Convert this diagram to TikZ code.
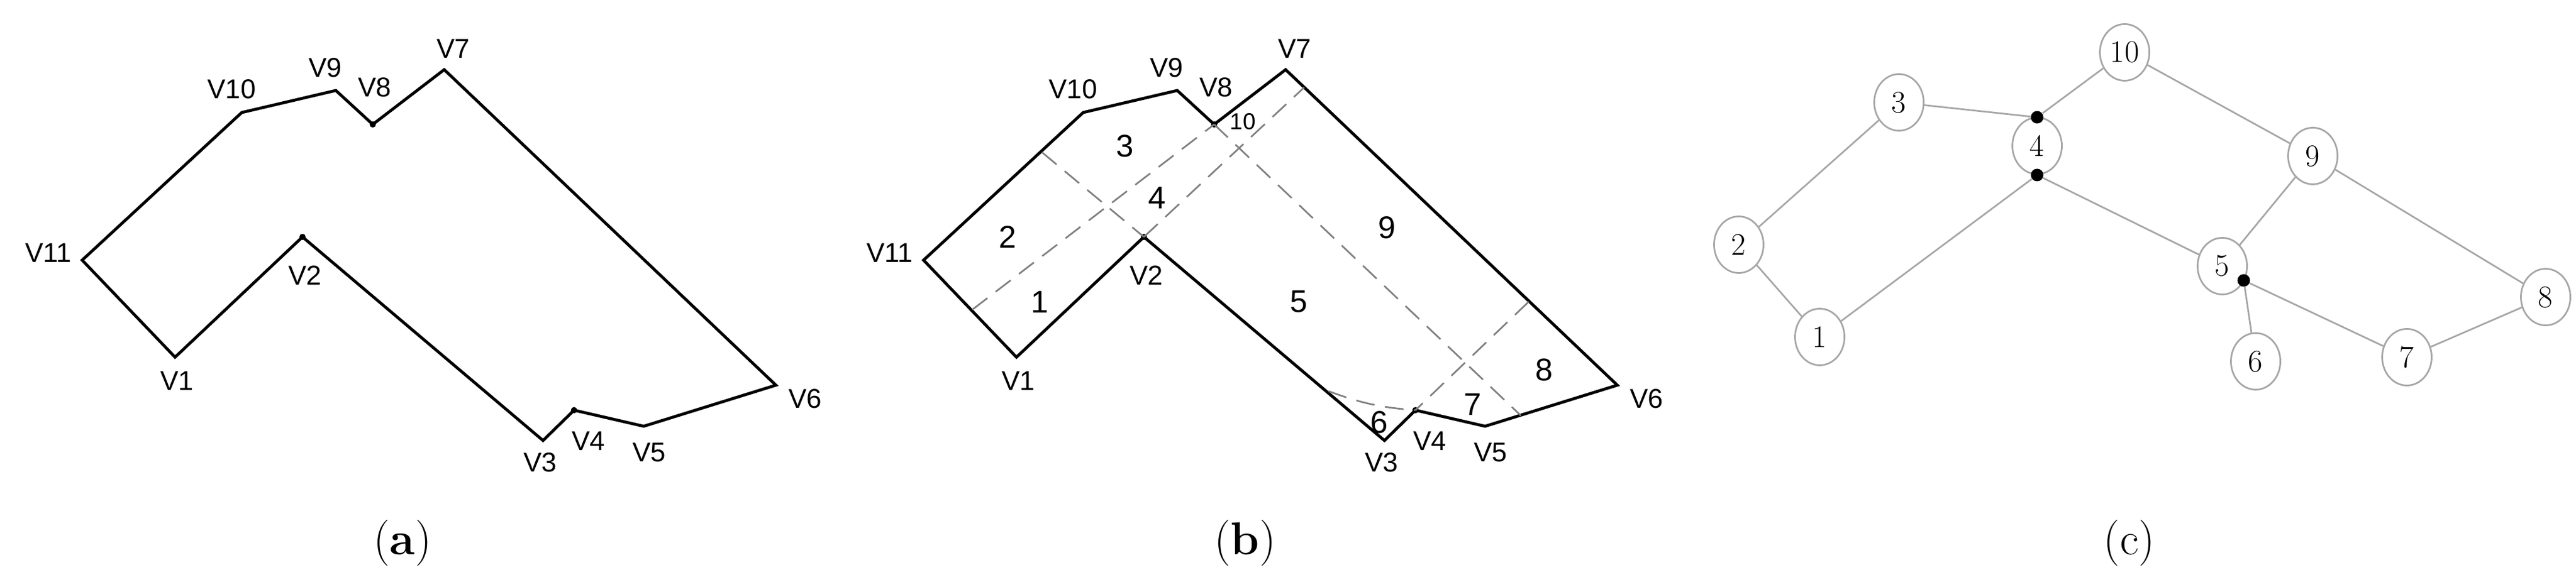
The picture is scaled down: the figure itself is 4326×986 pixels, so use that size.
\documentclass[tikz,border=0pt]{standalone}
\usepackage{fontspec}
\usetikzlibrary{shapes.geometric}
\setmainfont{Liberation Sans}
\newfontfamily\capfont{Latin Modern Roman}
\begin{document}
\begin{tikzpicture}[x=0.01cm,y=-0.01cm,
  poly/.style={line width=1.4pt,line join=miter},
  dsh/.style={gray,line width=0.8pt,dash pattern=on 9pt off 5pt},
  vl/.style={font=\fontsize{13}{13}\selectfont},
  rl/.style={font=\fontsize{15}{15}\selectfont},
  dot/.style={circle,fill=black,inner sep=0pt,minimum size=3pt},
  gn/.style={ellipse,draw=gray!70,text=black,line width=0.8pt,minimum width=0.83cm,minimum height=0.95cm,inner sep=0pt,font=\capfont\fontsize{15}{15}\selectfont},
  ge/.style={gray!70,line width=0.8pt},
  bd/.style={circle,fill=black,inner sep=0pt,minimum size=6pt},
  capt/.style={font=\capfont\fontsize{22}{22}\selectfont}]
\useasboundingbox (0,0) rectangle (4326,986);
% ---------- panel (b) geometry, panel (a) shifted
\foreach \dx/\p in {-1413/a,0/b}{
\begin{scope}[xshift=\dx*0.01cm]
\coordinate (\p V1) at (1707,600);
\coordinate (\p V2) at (1921,398);
\coordinate (\p V3) at (2325,740);
\coordinate (\p V4) at (2377,689);
\coordinate (\p V5) at (2494,716);
\coordinate (\p V6) at (2716,647);
\coordinate (\p V7) at (2159,117);
\coordinate (\p V8) at (2039,209);
\coordinate (\p V9) at (1977,152);
\coordinate (\p V10) at (1819,189);
\coordinate (\p V11) at (1551,437);
\draw[poly] (\p V1)--(\p V2)--(\p V3)--(\p V4)--(\p V5)--(\p V6)--(\p V7)--(\p V8)--(\p V9)--(\p V10)--(\p V11)--cycle;
\node[dot] at (\p V2) {}; \node[dot] at (\p V4) {}; \node[dot] at (\p V8) {};
\node[vl] at (2174,82) {V7};
\node[vl] at (1959,114) {V9};
\node[vl] at (2042,147) {V8};
\node[vl] at (1802,150) {V10};
\node[vl] at (1494,425) {V11};
\node[vl] at (1925,463) {V2};
\node[vl] at (1710,640) {V1};
\node[vl] at (2320,777) {V3};
\node[vl] at (2401,741) {V4};
\node[vl] at (2503,760) {V5};
\node[vl] at (2765,670) {V6};
\end{scope}}
\coordinate (d1) at (1633,520);
\coordinate (d2) at (1750,256);
\coordinate (d3) at (2190,147);
\coordinate (d4) at (2554,698);
\coordinate (d5) at (2567,507);
\coordinate (d6) at (2231,657);
\draw[dsh] (d1)--(bV8);
\draw[dsh] (d2)--(bV2);
\draw[dsh] (bV2)--(d3);
\draw[dsh] (bV8)--(d4);
\draw[dsh] (d5)--(bV4);
\draw[dsh] (d6) to[bend right=8] (bV4);
\node[rl] at (1746,507) {1};
\node[rl] at (1692,398) {2};
\node[rl] at (1889,245) {3};
\node[rl] at (1943,332) {4};
\node[rl] at (2181,507) {5};
\node[rl] at (2316,709) {6};
\node[rl] at (2473,679) {7};
\node[rl] at (2593,621) {8};
\node[rl] at (2329,382) {9};
\node[font=\fontsize{11}{11}\selectfont] at (2087,204) {10};
% ---------- panel (c)
\node[gn] (n10) at (3568,88) {10};
\node[gn] (n3) at (3189,172) {3};
\node[gn] (n4) at (3421,245) {4};
\node[gn] (n9) at (3884,262) {9};
\node[gn] (n2) at (2920,411) {2};
\node[gn] (n5) at (3732,447) {5};
\node[gn] (n8) at (4275,499) {8};
\node[gn] (n1) at (3056,566) {1};
\node[gn] (n6) at (3788,607) {6};
\node[gn] (n7) at (4042,600) {7};
\node[bd] (p4t) at (3421,197) {};
\node[bd] (p4b) at (3421,294) {};
\node[bd] (p5) at (3768,471) {};
\draw[ge] (n3)--(p4t);
\draw[ge] (n10)--(p4t);
\draw[ge] (p4b)--(n1);
\draw[ge] (p4b)--(n5);
\draw[ge] (n2)--(n3);
\draw[ge] (n2)--(n1);
\draw[ge] (n10)--(n9);
\draw[ge] (n9)--(n5);
\draw[ge] (n9)--(n8);
\draw[ge] (n8)--(n7);
\draw[ge] (p5)--(n6);
\draw[ge] (p5)--(n7);
% ---------- captions
\node[capt] (ca) at (676,912) {(\textbf{a})};
\node[capt] (cb) at (2091,912) {(\textbf{b})};
\node[capt] (cc) at (3576,912) {(c)};
\end{tikzpicture}
\end{document}
